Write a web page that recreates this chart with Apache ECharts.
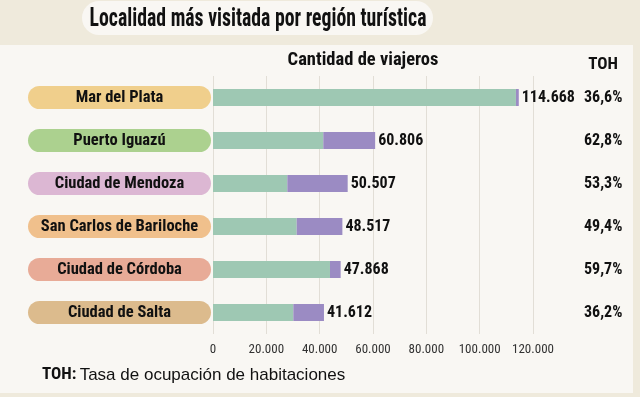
<!DOCTYPE html>
<html>
<head>
<meta charset="utf-8">
<script src="https://cdn.jsdelivr.net/npm/echarts@6/dist/echarts.min.js"></script>
<style>
  html, body { margin: 0; padding: 0; background: #efeadc; }
  #main { width: 640px; height: 397px; }
</style>
</head>
<body>
<div id="main"></div>
<script>
// datos
var localidades = ['Mar del Plata', 'Puerto Iguazú', 'Ciudad de Mendoza', 'San Carlos de Bariloche', 'Ciudad de Córdoba', 'Ciudad de Salta'];
var parteVerde = [113600, 41360, 27870, 31380, 43870, 30120];
var parteVioleta = [1068, 19446, 22637, 17137, 3998, 11492];
var totales = [114668, 60806, 50507, 48517, 47868, 41612];
var toh = ['36,6%', '62,8%', '53,3%', '49,4%', '59,7%', '36,2%'];
var colorPastilla = ['#f0cf8c', '#acd18f', '#dcb7d3', '#f0c08c', '#e8ab97', '#dcbb8d'];

var NARROW = '"Liberation Sans Narrow", "Roboto Condensed", Roboto, sans-serif';

function miles(v) {
    return String(v).replace(/\B(?=(\d{3})+(?!\d))/g, '.');
}

(function () {
    var myChart = echarts.init(document.getElementById('main'));
    var rich = {};
    colorPastilla.forEach(function (c, i) {
        rich['p' + i] = {
            backgroundColor: c,
            width: 183,
            height: 23,
            lineHeight: 23,
            borderRadius: 12,
            align: 'center',
            fontFamily: NARROW,
            fontWeight: 'bold',
            fontSize: 16.5,
            color: '#111'
        };
    });
    // el eje de categorías va de abajo hacia arriba
    var cats = localidades.slice().reverse();
    var verde = parteVerde.slice().reverse();
    var violeta = parteVioleta.slice().reverse();
    var tot = totales.slice().reverse();
    var tohR = toh.slice().reverse();

    var option = {
        backgroundColor: '#efeadc',
        animation: false,
        graphic: [
            { type: 'rect', shape: { x: 0, y: 45, width: 633, height: 348 }, style: { fill: '#f9f7f3' }, z: -10 },
            { type: 'rect', shape: { x: 82, y: 1, width: 351, height: 34, r: 17 }, style: { fill: '#f9f7f3' }, z: -10 },
            { type: 'text', x: 258, y: 19, scaleX: 0.76, style: { text: 'Localidad más visitada por región turística', font: 'bold 26px ' + NARROW, fill: '#111', align: 'center', verticalAlign: 'middle' } },
            { type: 'text', x: 363, y: 60, style: { text: 'Cantidad de viajeros', font: 'bold 18.5px ' + NARROW, fill: '#111', align: 'center', verticalAlign: 'middle' } },
            { type: 'text', x: 603, y: 65, style: { text: 'TOH', font: 'bold 17px ' + NARROW, fill: '#111', align: 'center', verticalAlign: 'middle' } },
            { type: 'text', x: 42, y: 375, style: {
                text: '{b|TOH:} {n|Tasa de ocupación de habitaciones}',
                rich: {
                    b: { fontFamily: NARROW, fontWeight: 'bold', fontSize: 17, fill: '#111' },
                    n: { fontFamily: '"Liberation Sans", Arial, sans-serif', fontSize: 17, fill: '#111' }
                },
                verticalAlign: 'middle'
            } }
        ],
        grid: { left: 213, right: 107, top: 76, bottom: 63 },
        xAxis: {
            type: 'value',
            min: 0,
            max: 120000,
            interval: 20000,
            axisLine: { show: false },
            axisTick: { show: false },
            splitLine: { lineStyle: { color: '#e2ded6' } },
            axisLabel: {
                margin: 9,
                fontFamily: NARROW,
                fontSize: 13,
                color: '#333',
                formatter: function (v) { return miles(v); }
            }
        },
        yAxis: [
            {
                type: 'category',
                data: cats,
                axisLine: { show: false },
                axisTick: { show: false },
                axisLabel: {
                    margin: 2,
                    formatter: function (v) {
                        return '{p' + localidades.indexOf(v) + '|' + v + '}';
                    },
                    rich: rich
                }
            },
            {
                type: 'category',
                position: 'right',
                data: tohR,
                axisLine: { show: false },
                axisTick: { show: false },
                axisLabel: {
                    margin: 51,
                    padding: [8, 0, 0, 0],
                    fontFamily: NARROW,
                    fontWeight: 'bold',
                    fontSize: 16,
                    color: '#111'
                }
            }
        ],
        series: [
            {
                name: 'verde',
                type: 'bar',
                stack: 'total',
                data: verde,
                barWidth: 17,
                itemStyle: { color: '#9ec8b3' }
            },
            {
                name: 'violeta',
                type: 'bar',
                stack: 'total',
                data: violeta,
                barWidth: 17,
                itemStyle: { color: '#9b8bc3' },
                label: {
                    show: true,
                    position: 'right',
                    distance: 3,
                    fontFamily: NARROW,
                    fontWeight: 'bold',
                    fontSize: 16,
                    color: '#111',
                    formatter: function (p) { return miles(tot[p.dataIndex]); }
                }
            }
        ]
    };
    myChart.setOption(option);
})();
</script>
</body>
</html>
